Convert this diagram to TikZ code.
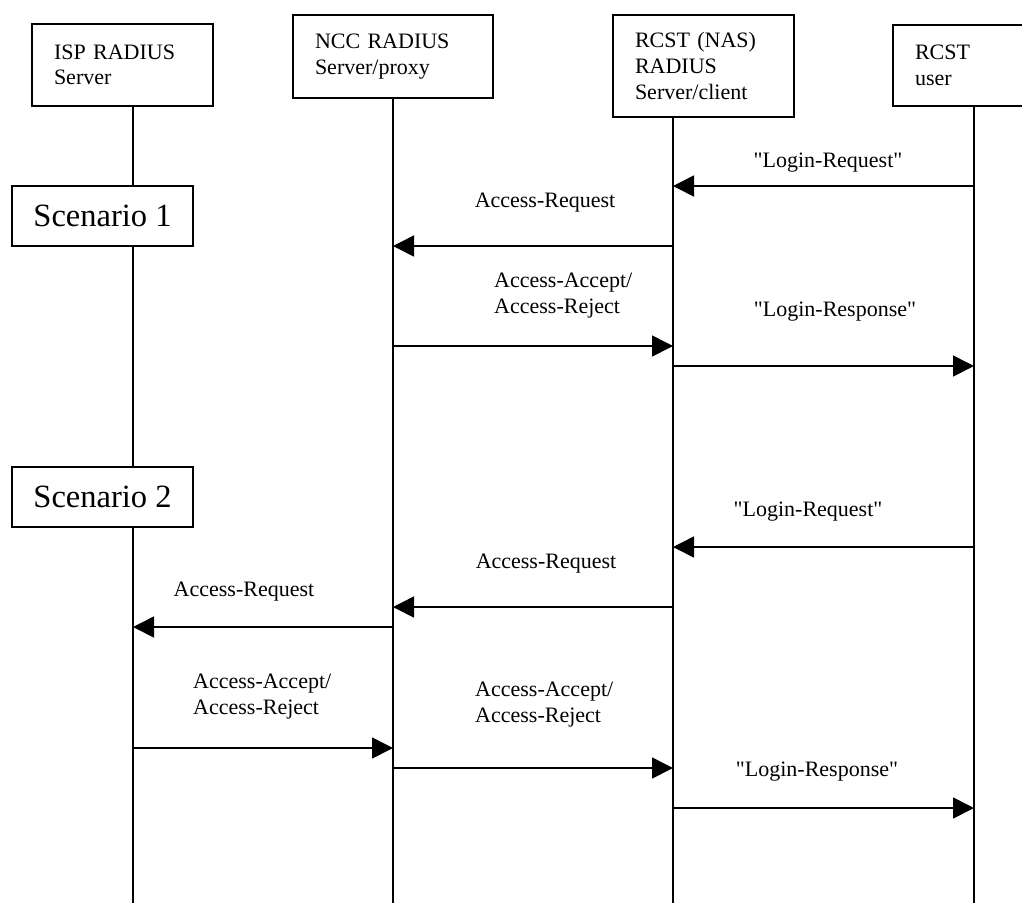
\documentclass[tikz,border=0pt]{standalone}
\usepackage{fontspec}
\setmainfont{Liberation Serif}[Ligatures=TeXOff]
\usetikzlibrary{arrows.meta}
\begin{document}
\begin{tikzpicture}[x=1pt,y=-1pt,
  every node/.style={font=\fontsize{22}{26}\selectfont},
  hdr/.style={draw, line width=1.6pt, anchor=north west, inner xsep=22pt, inner ysep=2pt, align=left, outer sep=0pt},
  scen/.style={draw, fill=white, line width=1.6pt, anchor=north west, minimum width=181pt, minimum height=60pt, inner sep=0pt, outer sep=0pt, font=\fontsize{32.5}{38}\selectfont},
  life/.style={line width=1.6pt},
  msg/.style={line width=1.6pt, -{Triangle[length=21pt,width=21pt]}},
  lbl/.style={inner sep=0pt, align=left}
]
\useasboundingbox (0,0) rectangle (1022,903);
\clip (0,0) rectangle (1022,903);

% header boxes
\node[hdr, minimum width=181pt, minimum height=82pt, text width=137pt] (isp) at (32,24) {ISP RADIUS\\[-1pt]Server};
\node[hdr, minimum width=200pt, minimum height=83pt, text width=156pt] (ncc) at (293,15) {NCC RADIUS\\Server/proxy};
\node[hdr, minimum width=181pt, minimum height=102pt, text width=137pt] (nas) at (613,15) {RCST (NAS)\\RADIUS\\Server/client};
\node[hdr, minimum width=181pt, minimum height=81pt, text width=137pt] (usr) at (893,25) {RCST\\user};

% lifeline ends
\coordinate (ispEnd) at (133,903);
\coordinate (nccEnd) at (393,903);
\coordinate (nasEnd) at (673,903);
\coordinate (usrEnd) at (974,903);

\draw[life] (isp.south -| ispEnd) -- (ispEnd);
\draw[life] (ncc.south -| nccEnd) -- (nccEnd);
\draw[life] (nas.south -| nasEnd) -- (nasEnd);
\draw[life] (usr.south -| usrEnd) -- (usrEnd);

% scenario boxes
\node[scen] (sc1) at (12,186) {Scenario 1};
\node[scen] (sc2) at (12,467) {Scenario 2};

% message endpoints
\coordinate (u1) at (974,186); \coordinate (r1) at (673,186);
\coordinate (r2) at (673,246); \coordinate (n2) at (393,246);
\coordinate (n3) at (393,346); \coordinate (r3) at (673,346);
\coordinate (r4) at (673,366); \coordinate (u4) at (974,366);
\coordinate (u5) at (974,547); \coordinate (r5) at (673,547);
\coordinate (r6) at (673,607); \coordinate (n6) at (393,607);
\coordinate (n7) at (393,627); \coordinate (i7) at (133,627);
\coordinate (i8) at (133,748); \coordinate (n8) at (393,748);
\coordinate (n9) at (393,768); \coordinate (r9) at (673,768);
\coordinate (r10) at (673,808); \coordinate (u10) at (974,808);

\draw[msg] (u1) -- (r1);
\draw[msg] (r2) -- (n2);
\draw[msg] (n3) -- (r3);
\draw[msg] (r4) -- (u4);
\draw[msg] (u5) -- (r5);
\draw[msg] (r6) -- (n6);
\draw[msg] (n7) -- (i7);
\draw[msg] (i8) -- (n8);
\draw[msg] (n9) -- (r9);
\draw[msg] (r10) -- (u10);

% labels
\node[lbl] (l1) at (828,163) {"Login-Request"};
\node[lbl] (l2) at (545,203) {Access-Request};
\node[lbl, anchor=west] (l3) at (494,295.5) {Access-Accept/\\Access-Reject};
\node[lbl] (l4) at (835,312) {"Login-Response"};
\node[lbl] (l5) at (808,512) {"Login-Request"};
\node[lbl] (l6) at (546,564) {Access-Request};
\node[lbl] (l7) at (244,592) {Access-Request};
\node[lbl, anchor=west] (l8) at (193,696.5) {Access-Accept/\\Access-Reject};
\node[lbl, anchor=west] (l9) at (475,704.5) {Access-Accept/\\Access-Reject};
\node[lbl] (l10) at (817,772) {"Login-Response"};
\end{tikzpicture}
\end{document}
